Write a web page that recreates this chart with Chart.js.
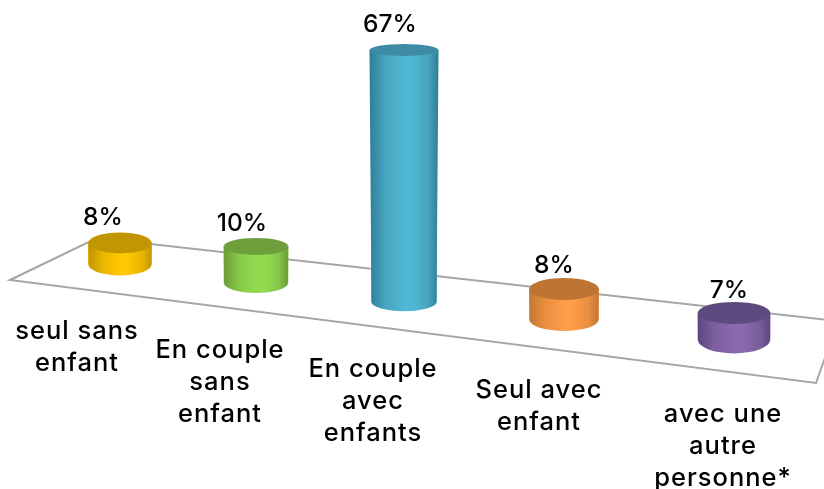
<!DOCTYPE html>
<html><head><meta charset="utf-8">
<style>html,body{margin:0;padding:0;background:#fff}#w{width:824px;height:489px;position:relative}</style>
<script src="https://cdn.jsdelivr.net/npm/chart.js@4"></script>
</head><body><div id="w"><canvas id="c" width="824" height="489"></canvas></div>
<script>
const categories=[["seul sans","enfant"],["En couple","sans","enfant"],["En couple","avec","enfants"],["Seul avec","enfant"],["avec une","autre","personne*"]];
const values=[8,10,67,8,7];
const valueLabels=["8%","10%","67%","8%","7%"];
// colours: top, edge, mid, highlight
const topColors=["#c29600","#6f9f3c","#3f8ba5","#bd7434","#5f4a80"];
const edgeColors=["#c09500","#6c9c38","#2f7d98","#c27832","#5c4680"];
const midColors=["#e8b500","#86c748","#47a4bf","#e88e40","#7b5e9e"];
const lightColors=["#ffc800","#94da50","#50b8d4","#ff9d48","#8a69ae"];
// perspective layout of the 3D floor
const slotX=[120,256,404,564,734];
const slotW=[63,64,65,69,72];
const floorLevel=[60.7,55.7,50.5,45.7,40.3];
const foreshorten=[0.726,0.986,1.017,1.047,1.042];
const ryTop=[10.5,8.5,6,11,11];
const ryBottom=[11,10,9,11,13.5];
const catAnchor=[[77,331],[220,350],[373,369],[539,390],[723,414]];
const valAnchor=[[103,218],[242,224],[390,25],[554,266],[729,291]];
const floorQuad=[[10,280],[97,238],[838,321],[816,383]];
const FONT="Inter";

class PerspectiveScale extends Chart.CategoryScale{
  getPixelForValue(v){const i=typeof v==='number'?v:this.parse(v);return slotX[i];}
}
PerspectiveScale.id='perspective';PerspectiveScale.defaults={};
Chart.register(PerspectiveScale);

const scene={id:'scene',
 afterDatasetsUpdate(ch){ch.getDatasetMeta(0).data.forEach((b,i)=>{b.width=slotW[i];});},
 beforeDatasetsDraw(ch){const c=ch.ctx;c.save();c.beginPath();
  floorQuad.forEach((p,i)=>i?c.lineTo(p[0],p[1]):c.moveTo(p[0],p[1]));c.closePath();
  c.strokeStyle="#a6a6a6";c.lineWidth=2;c.stroke();c.restore();},
 afterDatasetsDraw(ch){const c=ch.ctx;
  ch.getDatasetMeta(0).data.forEach((b,i)=>{
   const h=b.base-b.y,wb=b.width/2,wt=wb+h*0.008,x=b.x;
   const g=c.createLinearGradient(x-wt,0,x+wt,0);
   g.addColorStop(0,edgeColors[i]);g.addColorStop(.22,midColors[i]);g.addColorStop(.5,lightColors[i]);g.addColorStop(.62,lightColors[i]);g.addColorStop(.85,midColors[i]);g.addColorStop(1,edgeColors[i]);
   c.save();c.fillStyle=g;c.beginPath();
   c.moveTo(x-wt,b.y);c.lineTo(x-wb,b.base);
   c.ellipse(x,b.base,wb,ryBottom[i],0,Math.PI,0,true);
   c.lineTo(x+wt,b.y);c.closePath();c.fill();
   c.fillStyle=topColors[i];c.beginPath();c.ellipse(x,b.y,wt,ryTop[i],0,0,Math.PI*2);c.fill();
   c.restore();
  });
  c.save();c.fillStyle="#000";c.textAlign="center";c.textBaseline="middle";
  c.font="500 25.5px '"+FONT+"'";c.letterSpacing="1px";
  categories.forEach((ls,i)=>ls.forEach((t,j)=>c.fillText(t,catAnchor[i][0],catAnchor[i][1]+j*32)));
  c.font="500 24.5px '"+FONT+"'";c.letterSpacing="0px";
  valueLabels.forEach((t,i)=>c.fillText(t,valAnchor[i][0],valAnchor[i][1]));
  c.restore();
 }};

new Chart(document.getElementById('c'),{type:'bar',
 data:{labels:categories,datasets:[{data:values.map((v,i)=>[floorLevel[i],floorLevel[i]+v*foreshorten[i]]),
   backgroundColor:lightColors,barThickness:64,borderWidth:0}]},
 options:{responsive:false,animation:false,layout:{padding:0},
  plugins:{legend:{display:false},tooltip:{enabled:false}},
  scales:{x:{type:'perspective',display:false},y:{type:'linear',display:false,min:0,max:132.16}}},
 plugins:[scene]});
</script></body></html>
